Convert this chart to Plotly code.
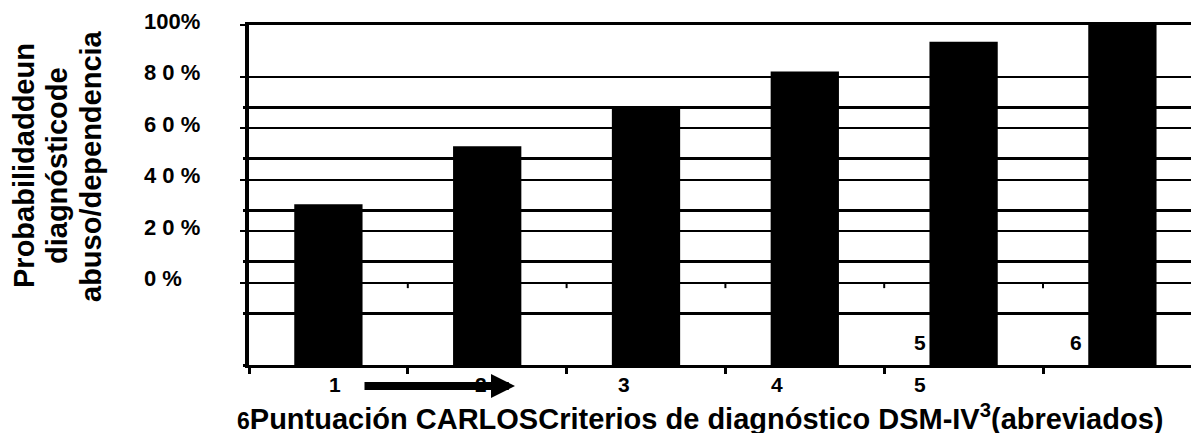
import plotly.graph_objects as go

# ---------------- data ----------------
scores = ["1", "2", "3", "4", "5", "6"]                 # CARLOS score categories
prob = [30.5, 53.0, 68.0, 82.0, 93.5, 100.0]          # probability (%)
y_ticks = [0, 20, 40, 60, 80, 100]
y_tick_text = ["0 %", "2 0 %", "4 0 %", "6 0 %", "8 0 %", "100%"]
x_labels_bottom = ["1", "2", "3", "4", "5"]
x_labels_inner = ["5", "6"]
y_title_lines = ["Probabilidaddeun", "diagnósticode", "abuso/dependencia"]
x_title = ('<span style="font-size:23px">6</span>Puntuación CARLOSCriterios de '
           'diagnóstico DSM-IV<sup>3</sup>(abreviados)')

# ---------------- layout constants ----------------
W, H = 1191, 433
L, T, B, R = 249, 25, 68, 0
PW, PH = W - L - R, H - T - B
CAT_PX = 158.8                       # pixel width of one category
YMIN, YMAX = -31.8, 100.0            # visible value range (0% sits above the bottom)
FONT = "Liberation Sans, Arial, sans-serif"


def px_x(p):
    return (p - L) / PW


def px_y(p):
    return (H - B - p) / PH


x_idx = list(range(len(scores)))
x_range = [-0.5, -0.5 + PW / CAT_PX]
bounds = [i - 0.5 for i in range(len(scores) + 1)]

fig = go.Figure()

# small tick marks hanging from the 0% line (secondary category axis)
tx, ty = [], []
for b in bounds[1:]:
    tx += [b, b, None]
    ty += [0, -2, None]
fig.add_trace(go.Scatter(x=tx, y=ty, mode="lines", line=dict(color="black", width=2),
                         hoverinfo="skip", showlegend=False, yaxis="y"))

# bars (drawn from the bottom of the plot area)
fig.add_trace(go.Bar(x=x_idx, y=[p - YMIN for p in prob], width=0.43,
                     marker=dict(color="black", line=dict(width=0)),
                     yaxis="y2", showlegend=False))

annotations = []
# y tick labels (left aligned)
for v, t in zip(y_ticks, y_tick_text):
    annotations.append(dict(text=t, xref="paper", x=px_x(142), xanchor="left",
                            yref="y", y=v, yshift=4, yanchor="middle", showarrow=False,
                            font=dict(family=FONT, size=22, color="black", weight=700)))

# bottom category labels
x_label_px = [335, 481, 624, 777, 920]
for t, xp in zip(x_labels_bottom, x_label_px):
    annotations.append(dict(text=t, xref="paper", x=px_x(xp), xanchor="center",
                            yref="paper", y=px_y(384), yanchor="middle", showarrow=False,
                            font=dict(family=FONT, size=21, color="black", weight=700)))
# inner labels
inner_px = [920, 1076]
for t, xp in zip(x_labels_inner, inner_px):
    annotations.append(dict(text=t, xref="paper", x=px_x(xp), xanchor="center",
                            yref="paper", y=px_y(342), yanchor="middle", showarrow=False,
                            font=dict(family=FONT, size=21, color="black", weight=700)))

# arrow
annotations.append(dict(text="", xref="paper", x=px_x(515), yref="paper", y=px_y(386),
                        ax=-152, ay=0, showarrow=True, arrowhead=2, arrowsize=0.6,
                        arrowwidth=8, arrowcolor="black", standoff=0))

# x title
annotations.append(dict(text=x_title, xref="paper", x=px_x(700), xanchor="center",
                        yref="paper", y=px_y(417), yanchor="middle", showarrow=False,
                        font=dict(family=FONT, size=29, color="black", weight=700)))

# y title (three rotated lines)
for t, xp in zip(y_title_lines, [24, 57, 91]):
    annotations.append(dict(text=t, xref="paper", x=px_x(xp), xanchor="center",
                            yref="paper", y=px_y(166), yanchor="middle", showarrow=False,
                            textangle=-90,
                            font=dict(family=FONT, size=29, color="black", weight=700)))

fig.update_layout(
    width=W, height=H,
    margin=dict(l=L, r=R, t=T, b=B, pad=0),
    paper_bgcolor="white", plot_bgcolor="white",
    bargap=0.57,
    showlegend=False,
    xaxis=dict(range=x_range, tickvals=bounds, showticklabels=False,
               ticks="outside", ticklen=6, tickwidth=3, tickcolor="black",
               showline=True, linewidth=3, linecolor="black", mirror=True,
               showgrid=False, zeroline=False, fixedrange=True),
    yaxis=dict(range=[YMIN, YMAX], tickvals=y_ticks, showticklabels=False,
               ticks="outside", ticklen=5, tickwidth=2, tickcolor="black",
               showgrid=True, gridcolor="black", gridwidth=2,
               showline=True, linewidth=4, linecolor="black",
               zeroline=False, fixedrange=True),
    yaxis2=dict(range=[0, YMAX - YMIN], tickvals=y_ticks, showticklabels=False,
                overlaying="y", side="left", anchor="x",
                ticks="outside", ticklen=5, tickwidth=3, tickcolor="black",
                showgrid=True, gridcolor="black", gridwidth=3,
                showline=False, zeroline=False, fixedrange=True),
    annotations=annotations,
)

fig.write_html("out.html", config={"displayModeBar": False},
               post_script="document.body.style.margin='0px';")
